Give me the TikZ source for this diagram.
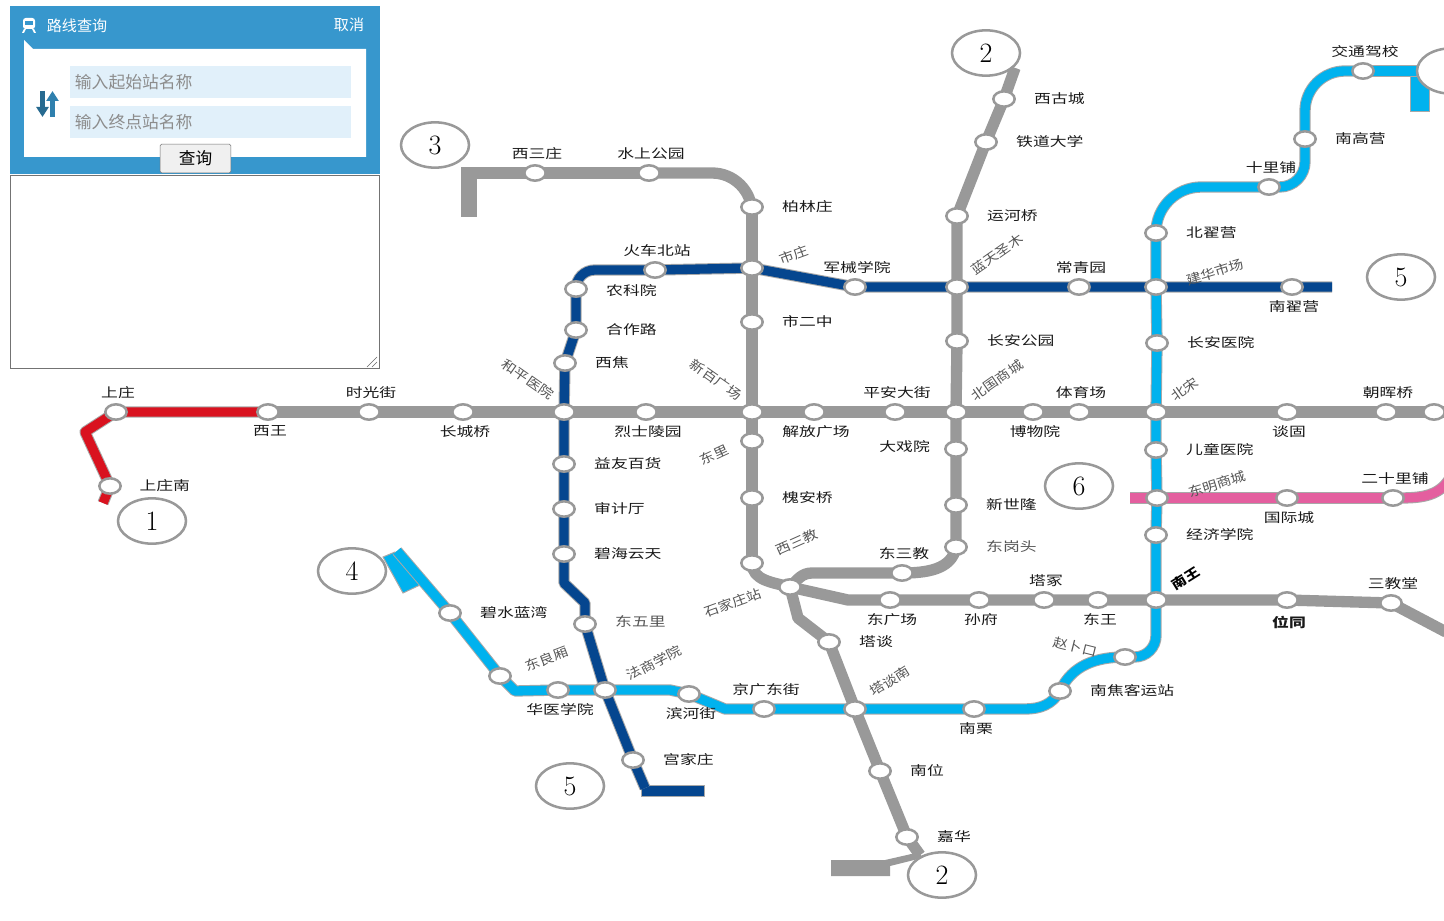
\documentclass[tikz,border=0pt]{standalone}
\usepackage{fontspec}
\newfontfamily\cjkfont{Noto Sans CJK SC}
\newfontfamily\labfont[FakeStretch=1.3]{Noto Sans CJK SC}
\newfontfamily\slantfont[FakeStretch=1.15]{Noto Sans CJK SC}
\usepackage{tikz}
\usetikzlibrary{arrows.meta,backgrounds,positioning,shapes.geometric}
\definecolor{linegrey}{HTML}{999999}
\definecolor{edgegrey}{HTML}{A8A8A8}
\definecolor{l1red}{HTML}{D9121F}
\definecolor{l4cyan}{HTML}{00B2EE}
\definecolor{l5blue}{HTML}{05468F}
\definecolor{l6pink}{HTML}{E45F9F}
\definecolor{panelblue}{HTML}{3797CD}
\definecolor{inputblue}{HTML}{E1F0FA}
\definecolor{holdgrey}{HTML}{8C8C8C}
\definecolor{slantgrey}{HTML}{555555}

\begin{document}
\begin{tikzpicture}[
    x=0.75pt, y=-0.75pt,
    stn/.style={ellipse, draw=linegrey, fill=white, line width=1.9pt,
                minimum width=16pt, minimum height=11.5pt, inner sep=0pt},
    lab/.style={font=\labfont\fontsize{9.7}{10}\selectfont, inner sep=0pt, text=black!90},
    labv/.style={lab, xshift=1.5pt},
    slant/.style={lab, font=\slantfont\fontsize{9.7}{10}\selectfont, text=slantgrey, rotate=#1},
    tline/.style={draw=edgegrey, line width=0.75pt, double=#1, double distance=7pt, line join=round},
    gline/.style={draw=linegrey, line width=0.75pt, double=linegrey, double distance=7pt, line join=round},
    numring/.style={ellipse, draw=linegrey, fill=white, line width=1.9pt, minimum width=51pt,
                    minimum height=34pt, inner sep=0pt, font=\fontsize{21}{21}\selectfont},
    inbox/.style={fill=inputblue, text=holdgrey, font=\cjkfont\fontsize{12.6}{14}\selectfont, anchor=west,
                  text width=203.75pt, minimum height=24.5pt, inner xsep=3.5pt, inner ysep=0pt, align=left},
]
  \useasboundingbox (0,0) rectangle (1444,920);

  % query panel
  \fill[panelblue] (10,6) rectangle (380,174);
  \fill[white] (24,40) -- (33,49) -- (366,49) -- (366,157) -- (24,157) -- cycle;
  \node[inbox] (infrom) at (70,82)  {输入起始站名称};
  \node[inbox] (into)   at (70,122) {输入终点站名称};
  \node[lab, text=white, font=\cjkfont\fontsize{11.3}{12}\selectfont] (ptitle) at (77,26) {路线查询};
  \node[lab, text=white, font=\cjkfont\fontsize{11.3}{12}\selectfont] (pcancel) at (349,25) {取消};
  \node[draw=black!55, fill=black!6, rounded corners=1pt, minimum width=53pt, minimum height=21.5pt, inner sep=0pt,
        font=\cjkfont\fontsize{12.5}{13}\selectfont] (pquery) at (195.5,158.5) {查询};
  \draw[black!55] (10.5,175.5) rectangle (379.5,368.5);
  \draw[black!60] (367,367) -- (377,357) (372,367) -- (377,362);
  % train icon
  \fill[white, rounded corners=2pt] (23,18) rectangle (35,29);
  \fill[panelblue] (25,21) rectangle (33,25);
  \fill[white] (24,29) -- (26,29) -- (24,33) -- (22,33) -- cycle (32,29) -- (34,29) -- (36,33) -- (34,33) -- cycle;
  % swap arrows
  \coordinate (dntop) at (42.5,91);  \coordinate (dnend) at (42.5,117);
  \coordinate (uptop) at (52.5,91);  \coordinate (upend) at (52.5,117);
  \draw[-{Triangle[length=7.5pt,width=9pt]}, line width=3.6pt, panelblue!70!black] (dntop) -- (dnend);
  \draw[-{Triangle[length=7.5pt,width=9pt]}, line width=3.6pt, panelblue!85!black] (upend) -- (uptop);

  % line 1
  \node[stn] (sz)  at (116,412) {};
  \node[stn] (szn) at (110,486) {};
  \node[labv, above=3pt of sz] (szt) {上庄};
  \node[lab, right=13pt of szn] (sznt) {上庄南};
  \coordinate (l1bend) at (85,432);
  \coordinate (l1end)  at (103,503);

  % east-west grey line
  \node[stn] (xw)  at (268,412) {};
  \node[stn] (sgj) at (369,412) {};
  \node[stn] (ccq) at (463,412) {};
  \node[stn] (hp)  at (564,412) {};
  \node[stn] (lsl) at (646,412) {};
  \node[stn] (xb)  at (752,412) {};
  \node[stn] (jf)  at (814,412) {};
  \node[stn] (pa)  at (895,412) {};
  \node[stn] (bg)  at (956,412) {};
  \node[stn] (bwy) at (1033,412) {};
  \node[stn] (tyc) at (1079,412) {};
  \node[stn] (bs)  at (1156,412) {};
  \node[stn] (tg)  at (1287,412) {};
  \node[stn] (zhq) at (1386,412) {};
  \node[stn] (l1z) at (1434,412) {};
  \coordinate (l1right) at (1446,412);
  \node[labv, below=3pt of xw] (xwt) {西王};
  \node[labv, above=3pt of sgj] (sgjt) {时光街};
  \node[labv, below=3pt of ccq] (ccqt) {长城桥};
  \node[labv, below=3pt of lsl] (lslt) {烈士陵园};
  \node[labv, below=3pt of jf] (jft) {解放广场};
  \node[labv, above=3pt of pa] (pat) {平安大街};
  \node[labv, below=3pt of bwy] (bwyt) {博物院};
  \node[labv, above=3pt of tyc] (tyct) {体育场};
  \node[labv, below=3pt of tg] (tgt) {谈固};
  \node[labv, above=3pt of zhq] (zhqt) {朝晖桥};
  \node[slant=-35] (hpt) at (528,379) {和平医院};
  \node[slant=-35] (xbt) at (716,380) {新百广场};
  \node[slant=35]  (bgt) at (997,380) {北国商城};
  \node[slant=35]  (bst) at (1185,389) {北宋};

  % line 3
  \coordinate (l3left) at (461,173);
  \node[stn] (xsz) at (535,173) {};
  \node[stn] (ssg) at (649,173) {};
  \node[stn] (blz) at (752,207) {};
  \node[stn] (sz2) at (752,268) {};
  \node[stn] (sez) at (752,322) {};
  \node[stn] (dl)  at (752,441) {};
  \node[stn] (haq) at (752,498) {};
  \node[stn] (xsj) at (752,563) {};
  \node[stn] (sjz) at (790,587) {};
  \node[stn] (tt)  at (829,642) {};
  \node[stn] (ttn) at (855,709) {};
  \node[stn] (nw2) at (880,771) {};
  \node[stn] (jh)  at (907,837) {};
  \coordinate (l3bend) at (798,618);
  \coordinate (l3low)  at (920,855);
  \coordinate (l3foot) at (885,863);
  \node[labv, above=3pt of xsz] (xszt) {西三庄};
  \node[labv, above=3pt of ssg] (ssgt) {水上公园};
  \node[lab, right=13.5pt of blz] (blzt) {柏林庄};
  \node[lab, right=13.5pt of sez] (sezt) {市二中};
  \node[lab, right=13.5pt of haq] (haqt) {槐安桥};
  \node[lab, right=13.5pt of tt] (ttt) {塔谈};
  \node[lab, right=13.5pt of nw2] (nw2t) {南位};
  \node[lab, right=13.5pt of jh] (jht) {嘉华};
  \node[slant=20] (sz2t) at (794,255) {市庄};
  \node[slant=25] (dlt)  at (714,455) {东里};
  \node[slant=24] (xsjt) at (797,542) {西三教};
  \node[slant=20] (sjzt) at (733,603) {石家庄站};
  \node[slant=32] (ttnt) at (890,681) {塔谈南};

  % line 2
  \coordinate (l2top) at (1015,68);
  \node[stn] (xgc) at (1004,99) {};
  \node[stn] (tdd) at (986,142) {};
  \node[stn] (yhq) at (957,216) {};
  \node[stn] (lt)  at (957,287) {};
  \node[stn] (agy) at (957,341) {};
  \node[stn] (dxy) at (956,449) {};
  \node[stn] (xsl) at (956,505) {};
  \node[stn] (dgt) at (956,547) {};
  \node[stn] (dsj) at (902,573) {};
  \coordinate (dsjw) at (812,573);
  \node[lab, right=13.5pt of xgc] (xgct) {西古城};
  \node[lab, right=13.5pt of tdd] (tddt) {铁道大学};
  \node[lab, right=13.5pt of yhq] (yhqt) {运河桥};
  \node[lab, right=13.5pt of agy] (agyt) {长安公园};
  \node[lab, left=10.5pt of dxy, yshift=2pt] (dxyt) {大戏院};
  \node[lab, right=13.5pt of xsl] (xslt) {新世隆};
  \node[lab, right=13.5pt of dgt, text=slantgrey] (dgtt) {东岗头};
  \node[labv, above=3pt of dsj] (dsjt) {东三教};
  \node[slant=35] (ltt) at (997,254) {蓝天圣木};

  % south grey line
  \coordinate (dgcw) at (848,600);
  \node[stn] (dgc) at (890,600) {};
  \node[stn] (sf)  at (979,600) {};
  \node[stn] (tz)  at (1044,600) {};
  \node[stn] (dw)  at (1098,600) {};
  \node[stn] (nw)  at (1156,600) {};
  \node[stn] (wt)  at (1287,600) {};
  \node[stn] (sjt) at (1391,603) {};
  \coordinate (sjtr) at (1446,632);
  \node[labv, below=3pt of dgc] (dgct) {东广场};
  \node[labv, below=3pt of sf] (sft) {孙府};
  \node[labv, above=3pt of tz] (tzt) {塔冢};
  \node[labv, below=3pt of dw] (dwt) {东王};
  \node[labv, below=5pt of wt, font=\labfont\bfseries\fontsize{9.7}{10}\selectfont] (wtt) {位同};
  \node[labv, above=3pt of sjt] (sjtt) {三教堂};
  \node[slant=32, text=black, font=\slantfont\bfseries\fontsize{9.7}{10}\selectfont] (nwt) at (1186,578) {南王};

  % line 5
  \node[stn] (hcb) at (655,270) {};
  \node[stn] (nky) at (576,289) {};
  \node[stn] (hzl) at (576,330) {};
  \node[stn] (xj)  at (565,363) {};
  \node[stn] (yy)  at (564,464) {};
  \node[stn] (sjf) at (564,509) {};
  \node[stn] (bh)  at (564,554) {};
  \node[stn] (dwl) at (585,624) {};
  \node[stn] (fs)  at (605,690) {};
  \node[stn] (gjz) at (633,760) {};
  \node[stn] (jx)  at (855,287) {};
  \node[stn] (cq)  at (1079,287) {};
  \node[stn] (jhs) at (1156,287) {};
  \node[stn] (ndy) at (1292,287) {};
  \coordinate (l5a) at (564,583);
  \coordinate (l5b) at (585,603);
  \coordinate (l5c) at (645,788);
  \coordinate (l5r) at (1332,287);
  \node[labv, above=3pt of hcb] (hcbt) {火车北站};
  \node[lab, right=13.5pt of nky, yshift=-1pt] (nkyt) {农科院};
  \node[lab, right=13.5pt of hzl] (hzlt) {合作路};
  \node[lab, right=13.5pt of xj] (xjt) {西焦};
  \node[lab, right=13.5pt of yy] (yyt) {益友百货};
  \node[lab, right=13.5pt of sjf] (sjft) {审计厅};
  \node[lab, right=13.5pt of bh] (bht) {碧海云天};
  \node[lab, right=13.5pt of dwl, yshift=2pt, text=slantgrey] (dwlt) {东五里};
  \node[lab, right=13.5pt of gjz] (gjzt) {宫家庄};
  \node[labv, above=3pt of jx] (jxt) {军械学院};
  \node[labv, above=3pt of cq] (cqt) {常青园};
  \node[labv, below=3pt of ndy] (ndyt) {南翟营};
  \node[slant=27] (fst) at (654,663) {法商学院};
  \node[slant=17] (jhst) at (1215,272) {建华市场};

  % line 4
  \coordinate (l4r) at (1425,71);
  \node[stn] (jt)  at (1363,71) {};
  \node[stn] (ngy) at (1305,139) {};
  \node[stn] (slp) at (1269,187) {};
  \node[stn] (bdy) at (1156,233) {};
  \node[stn] (ay)  at (1157,343) {};
  \node[stn] (et)  at (1156,450) {};
  \node[stn] (dm)  at (1157,498) {};
  \node[stn] (jj)  at (1156,535) {};
  \node[stn] (zbk) at (1125,657) {};
  \node[stn] (njk) at (1060,691) {};
  \node[stn] (nl)  at (974,709) {};
  \node[stn] (jg)  at (764,709) {};
  \node[stn] (bhj) at (689,694) {};
  \node[stn] (hy)  at (558,690) {};
  \node[stn] (dlx) at (500,676) {};
  \node[stn] (bs2) at (450,613) {};
  \coordinate (nlr) at (1025,709);
  \coordinate (jgw) at (725,709);
  \coordinate (hyw) at (515,691);
  \coordinate (fsr) at (670,690);
  \coordinate (l4top) at (397,551);
  \node[labv, above=3pt of jt] (jtt) {交通驾校};
  \node[lab, right=13.5pt of ngy] (ngyt) {南高营};
  \node[labv, above=3pt of slp] (slpt) {十里铺};
  \node[lab, right=13.5pt of bdy] (bdyt) {北翟营};
  \node[lab, right=13.5pt of ay] (ayt) {长安医院};
  \node[lab, right=13.5pt of et] (ett) {儿童医院};
  \node[lab, right=13.5pt of jj] (jjt) {经济学院};
  \node[lab, right=13.5pt of njk] (njkt) {南焦客运站};
  \node[labv, below=3pt of nl] (nlt) {南栗};
  \node[labv, above=3pt of jg] (jgt) {京广东街};
  \node[labv, below=3pt of bhj] (bhjt) {滨河街};
  \node[labv, below=3pt of hy] (hyt) {华医学院};
  \node[lab, right=13.5pt of bs2] (bs2t) {碧水蓝湾};
  \node[slant=21] (dlxt) at (547,659) {东良厢};
  \node[slant=17] (dmt) at (1217,484) {东明商城};
  \node[slant=-14] (zbkt) at (1075,647) {赵卜口};

  % line 6
  \coordinate (l6l) at (1130,498);
  \coordinate (l6r) at (1450,478);
  \node[stn] (gj)  at (1287,498) {};
  \node[stn] (esl) at (1393,498) {};
  \node[labv, below=3pt of gj] (gjt) {国际城};
  \node[labv, above=3pt of esl] (eslt) {二十里铺};

  % connectors
  \begin{scope}[on background layer]
  \fill[linegrey] (461,168) rectangle (477,217);
  \fill[linegrey] (831,860) -- (885,860) -- (920,852) -- (922,858) -- (890,866) -- (890,876) -- (831,876) -- cycle;
  \filldraw[draw=edgegrey, fill=l5blue, line width=0.75pt] (641,785) rectangle (704,796);
  \filldraw[draw=edgegrey, fill=l4cyan, line width=0.75pt] (1410,66) rectangle (1429,112);
  \filldraw[draw=edgegrey, fill=l4cyan, line width=0.75pt] (383,557) -- (395,552) -- (420,585) -- (403,593) -- cycle;

  \draw[tline=l1red] (xw.center) -- (sz.center) -- (l1bend) -- (szn.center) -- (l1end);
  \draw[tline=l5blue] (sz2.center) -- (hcb.center);
  \draw[tline=l5blue, rounded corners=14pt] (hcb.center) -| (nky.center);
  \draw[tline=l5blue] (nky.center) -- (hzl.center) -- (xj.center) -- (hp.center) -- (yy.center) -- (sjf.center) -- (bh.center) -- (l5a) -- (l5b) -- (dwl.center) -- (fs.center) -- (gjz.center) -- (l5c);
  \draw[tline=l5blue] (sz2.center) -- (jx.center) -- (lt.center) -- (cq.center) -- (jhs.center) -- (ndy.center) -- (l5r);
  \draw[tline=l4cyan] (jt.center) -- (l4r);
  \draw[tline=l4cyan, rounded corners=30pt] (ngy.center) |- (jt.center);
  \draw[tline=l4cyan, rounded corners=19pt] (slp.center) -| (ngy.center);
  \draw[tline=l4cyan, rounded corners=34pt] (bdy.center) |- (slp.center);
  \draw[tline=l4cyan] (bdy.center) -- (jhs.center) -- (ay.center) -- (bs.center) -- (et.center) -- (dm.center) -- (jj.center) -- (nw.center);
  \draw[tline=l4cyan, rounded corners=16pt] (nw.center) |- (zbk.center);
  \draw[tline=l4cyan] (zbk.center) to[out=180,in=65] (njk.center);
  \draw[tline=l4cyan] (njk.center) to[out=240,in=0] (nlr) -- (nl.center) -- (ttn.center) -- (jg.center) -- (jgw) -- (bhj.center) -- (fsr) -- (fs.center) -- (hy.center) -- (hyw) -- (dlx.center) -- (bs2.center) -- (l4top);
  \draw[tline=l6pink] (l6l) -- (dm.center) -- (gj.center) -- (esl.center);
  \draw[tline=l6pink] (esl.center) to[out=0,in=240] (l6r);
  \draw[gline] (l1right) -- (l1z.center) -- (zhq.center) -- (tg.center) -- (bs.center) -- (tyc.center) -- (bwy.center) -- (bg.center) -- (pa.center) -- (jf.center) -- (xb.center) -- (lsl.center) -- (hp.center) -- (ccq.center) -- (sgj.center) -- (xw.center);
  \draw[gline] (l3left) -- (xsz.center) -- (ssg.center);
  \draw[gline, rounded corners=30pt] (ssg.center) -| (blz.center);
  \draw[gline] (blz.center) -- (sz2.center) -- (sez.center) -- (xb.center) -- (dl.center) -- (haq.center) -- (xsj.center);
  \draw[gline] (xsj.center) to[out=-90,in=165] (sjz.center);
  \draw[gline] (sjz.center) -- (l3bend) -- (tt.center) -- (ttn.center) -- (nw2.center) -- (jh.center) -- (l3low);
  \draw[gline] (l2top) -- (xgc.center) -- (tdd.center) -- (yhq.center) -- (lt.center) -- (agy.center) -- (bg.center) -- (dxy.center) -- (xsl.center) -- (dgt.center);
  \draw[gline] (dgt.center) to[out=-100,in=0] (dsj.center);
  \draw[gline] (dsj.center) -- (dsjw) to[out=180,in=45] (sjz.center);
  \draw[gline] (sjz.center) -- (dgcw) -- (dgc.center) -- (sf.center) -- (tz.center) -- (dw.center) -- (nw.center) -- (wt.center) -- (sjt.center) -- (sjtr);
  \end{scope}

  % line numbers
  \node[numring] (n1) at (152,521) {1};
  \node[numring] (n2a) at (986,53) {2};
  \node[numring] (n2b) at (942,875) {2};
  \node[numring] (n3) at (435,145) {3};
  \node[numring] (n4) at (352,571) {4};
  \node[numring] (n4b) at (1451,71) {};
  \node[numring] (n5a) at (570,786) {5};
  \node[numring] (n5b) at (1401,277) {5};
  \node[numring] (n6) at (1079,486) {6};
\end{tikzpicture}
\end{document}
